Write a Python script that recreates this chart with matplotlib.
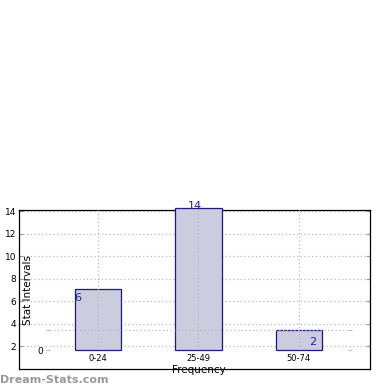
import numpy as np
import matplotlib
matplotlib.use("Agg")
import matplotlib.pyplot as plt

# data
intervals = ["0-24", "25-49", "50-74"]
counts = [6, 14, 2]
outer_ticks = [2, 4, 6, 8, 10, 12, 14]

W = H = 390.0
fig = plt.figure(figsize=(3.9, 3.9), dpi=100)

# outer frame with the 2..14 scale
ax0 = fig.add_axes([19 / W, 21 / H, 351 / W, 159 / H])
ax0.set_ylim(0, 14.1)
ax0.set_xlim(0, 1)
ax0.set_yticks(outer_ticks)
ax0.set_yticklabels([str(t) for t in outer_ticks], fontsize=6.5)
ax0.set_xticks([])
ax0.tick_params(axis="y", direction="in", length=3, left=True, right=True,
                color="#999999", pad=2)
ax0.yaxis.grid(True, linestyle=(0, (1, 2)), color="#bbbbbb", linewidth=0.9)
for s in ax0.spines.values():
    s.set_linewidth(0.9)

# inner bar axes, no frame
ax = fig.add_axes([50 / W, 40 / H, 298 / W, 140 / H], facecolor="none")
x = np.arange(len(intervals))
bars = ax.bar(x, counts, width=0.46, color="#ccccdf", edgecolor="#1a1a80",
              linewidth=0.9, zorder=2, clip_on=False)
ax.set_xlim(-0.48, 2.49)
ax.set_ylim(0, 13.8)
for s in ax.spines.values():
    s.set_visible(False)
ax.set_xticks(x)
ax.set_xticklabels(intervals, fontsize=6)
ax.set_yticks([0, 2])
ax.set_yticklabels(["0", ""], fontsize=6.5)
ax.tick_params(axis="x", length=0, pad=3)
ax.tick_params(axis="y", direction="out", length=3, color="#bbbbbb",
               left=True, right=True, pad=2)
ax.grid(True, linestyle=(0, (1, 2)), color="#bbbbbb", linewidth=0.9, zorder=3)
ax.set_axisbelow(False)
ax.set_ylabel("Stat Intervals", fontsize=7.5)
ax.yaxis.set_label_coords(-0.058, 0.43)
ax.set_xlabel("Frequency", fontsize=7.5, labelpad=1)

# value labels, offsets from the bar centre / top
offsets = [(-0.235, -0.4, "left", "top"), (-0.04, -0.25, "center", "bottom"),
           (0.105, -1.2, "left", "center")]
for xi, v, (dx, dy, ha, va) in zip(x, counts, offsets):
    ax.text(xi + dx, v + dy, str(v), color="#1f1f9a", fontsize=8,
            ha=ha, va=va, zorder=5)

fig.text(0, 1 - 380 / H, "Dream-Stats.com", color="#999999",
         fontsize=8, fontweight="bold", ha="left", va="center")

fig.savefig("out.png", dpi=100)
